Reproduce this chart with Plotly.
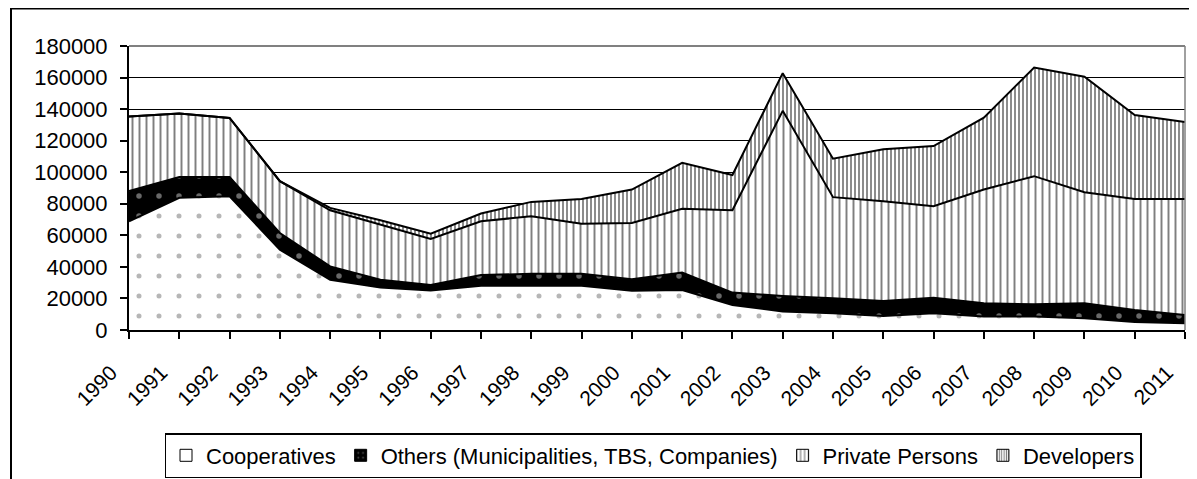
import plotly.graph_objects as go

years = list(range(1990, 2012))

cooperatives = [68900, 83800, 84800, 50900, 31800, 26900, 25000, 28000, 28000, 28000, 24800,
                25400, 15900, 11700, 10600, 8900, 10600, 8500, 8500, 7400, 5100, 4200]
others = [19100, 13100, 12100, 10600, 8500, 4900, 3600, 6800, 7600, 7600, 7400,
          11100, 7800, 9900, 9500, 9500, 9900, 8500, 7800, 9600, 7600, 5300]
private_persons = [47300, 40300, 37500, 32800, 35600, 35000, 29100, 34100, 36500, 31800, 35600,
                   40300, 52200, 117300, 64100, 63200, 57900, 72000, 81200, 70300, 70400, 73600]
developers = [0, 0, 0, 0, 1500, 2700, 3300, 4900, 9100, 15700, 21200,
              29200, 22300, 23900, 24400, 32900, 38200, 45600, 68900, 73200, 53200, 48700]

y_ticks = list(range(0, 180001, 20000))

FONT = "Liberation Sans, Arial, sans-serif"

fig = go.Figure()

series = [
    ("Cooperatives", cooperatives, dict(shape=".", fgcolor="#6e6e6e", bgcolor="white", size=20, solidity=0.05)),
    ("Others (Municipalities, TBS, Companies)", others, dict(shape=".", fgcolor="#d0d0d0", bgcolor="black", size=20, solidity=0.06)),
    ("Private Persons", private_persons, dict(shape="|", fgcolor="black", bgcolor="white", size=7, solidity=0.28)),
    ("Developers", developers, dict(shape="|", fgcolor="black", bgcolor="white", size=4, solidity=0.45)),
]

for name, vals, pat in series:
    fig.add_trace(go.Scatter(
        x=years,
        y=vals,
        name=name,
        mode="lines",
        stackgroup="one",
        line=dict(color="black", width=2),
        fillcolor=pat["bgcolor"],
        fillpattern=pat,
        showlegend=False,
    ))

# legend proxies: small patterned squares like the original
legend_pats = [
    dict(shape="", bgcolor="white"),
    dict(shape=".", fgcolor="#b0b0b0", bgcolor="black", size=6, solidity=0.1),
    dict(shape="|", fgcolor="black", bgcolor="white", size=5, solidity=0.3),
    dict(shape="|", fgcolor="black", bgcolor="white", size=3, solidity=0.45),
]
for (name, _, _), pat in zip(series, legend_pats):
    fig.add_trace(go.Bar(
        x=[None], y=[None], name=name,
        marker=dict(color=pat["bgcolor"], line=dict(color="black", width=1), pattern=pat),
    ))

# page body adds an 8px offset, so the figure is 8px smaller than the window
W, H = 1189, 471
L, R, T, B = 121, 12, 38, 149
pw, ph = W - L - R, H - T - B


def px_x(v):
    return (v - L) / pw


def px_y(v):
    return (H - B - v) / ph


fig.update_layout(
    width=W,
    height=H,
    margin=dict(l=L, r=R, t=T, b=B, autoexpand=False),
    paper_bgcolor="white",
    plot_bgcolor="white",
    font=dict(family=FONT, size=22, color="black"),
    showlegend=True,
    legend=dict(
        orientation="h",
        x=px_x(645),
        xanchor="center",
        y=px_y(425),
        yanchor="top",
        bordercolor="black",
        borderwidth=1.5,
        font=dict(size=22),
        itemwidth=30,
        tracegroupgap=0,
        traceorder="normal",
    ),
    shapes=[
        # outer chart frame
        dict(type="rect", xref="paper", yref="paper",
             x0=px_x(3), x1=px_x(1210), y0=px_y(490), y1=px_y(0.5),
             line=dict(color="black", width=2), fillcolor="rgba(0,0,0,0)", layer="below"),
        # grey plot-area frame top / right
        dict(type="line", xref="paper", yref="paper", x0=0, x1=1, y0=1, y1=1,
             line=dict(color="#808080", width=2)),
        dict(type="line", xref="paper", yref="paper", x0=1, x1=1, y0=0, y1=1,
             line=dict(color="#808080", width=1.5)),
    ],
)

fig.update_xaxes(
    range=[1990, 2011],
    tickvals=years,
    ticktext=[str(y) for y in years],
    tickangle=-45,
    ticks="outside",
    ticklen=7,
    tickcolor="black",
    tickwidth=1.5,
    ticklabelshift=-18,
    ticklabelstandoff=13,
    showline=True,
    linecolor="black",
    linewidth=2,
    showgrid=False,
    zeroline=False,
    automargin=False,
    tickfont=dict(size=21),
)

fig.update_yaxes(
    range=[0, 180000],
    tickvals=y_ticks,
    ticktext=[str(v) for v in y_ticks],
    ticks="outside",
    ticklen=7,
    tickcolor="black",
    tickwidth=1.5,
    ticklabelstandoff=8,
    showline=True,
    linecolor="black",
    linewidth=2,
    showgrid=True,
    gridcolor="black",
    gridwidth=1,
    zeroline=False,
    automargin=False,
    tickfont=dict(size=22),
)

fig.write_html("out.html")
